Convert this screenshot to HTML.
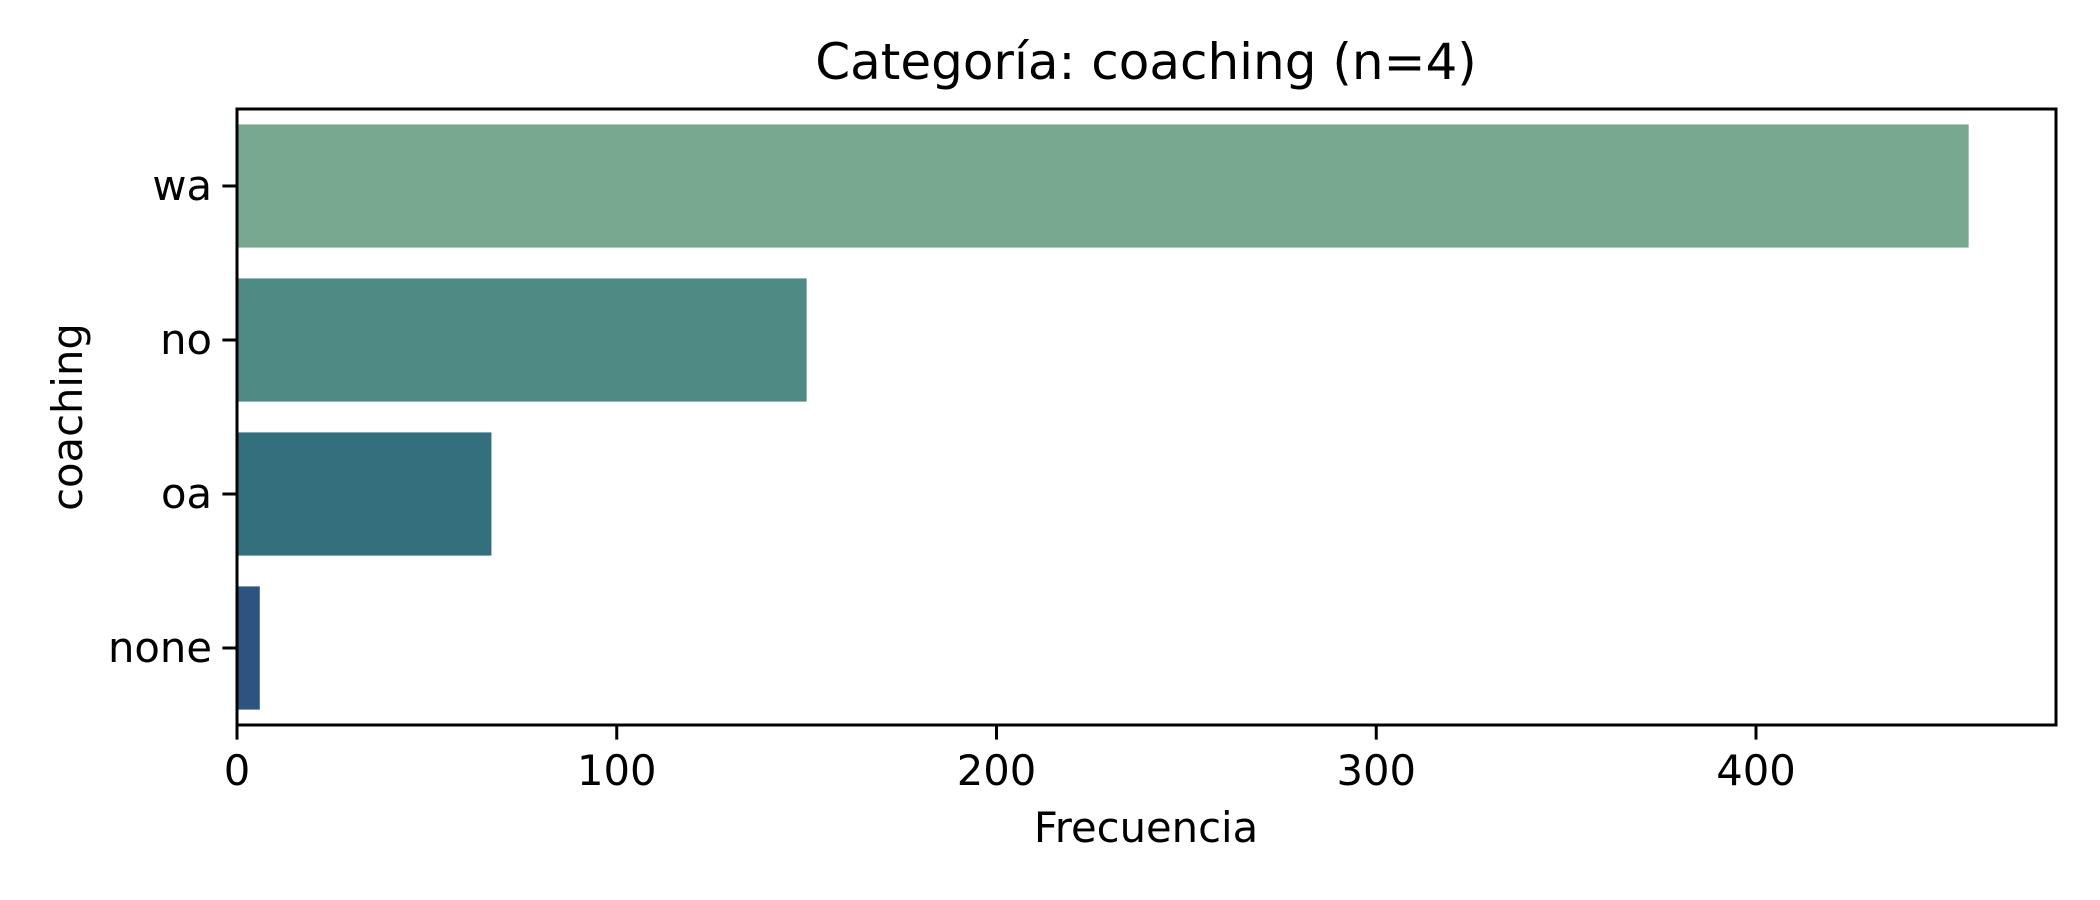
<!DOCTYPE html>
<html><head><meta charset="utf-8"><style>
html,body{margin:0;padding:0;background:#fff;}
svg{display:block;font-family:"DejaVu Sans","Liberation Sans",sans-serif;}
</style></head><body>
<svg id="chart" width="2100" height="900" viewBox="0 0 2100 900">
<text x="1146" y="79" font-size="50" text-anchor="middle">Categoría: coaching (n=4)</text>
<g id="bars"></g>
<g id="xticks"></g>
<g id="yticks"></g>
<rect x="237" y="109" width="1819" height="616" fill="none" stroke="#000" stroke-width="3"/>
<text x="1146" y="842" font-size="41.7" text-anchor="middle">Frecuencia</text>
<text transform="translate(82,417) rotate(-90)" font-size="41.7" text-anchor="middle">coaching</text>
</svg>
<script>
const categories = ["wa","no","oa","none"];
const values = [456,150,67,6];
const colors = ["#78a98f","#4f8b84","#336f7c","#2f5380"];
const xTicks = [0,100,200,300,400];
const xMax = 479;
const L=237,R=2056,T=109,B=725;
const NS="http://www.w3.org/2000/svg";
const xs=v=>L+(v/xMax)*(R-L);
const band=(B-T)/categories.length;
const yc=i=>T+band*(i+0.5);
function mk(tag,attrs,parent,txt){const e=document.createElementNS(NS,tag);for(const k in attrs)e.setAttribute(k,attrs[k]);if(txt!==undefined)e.textContent=txt;parent.appendChild(e);return e;}
const gb=document.getElementById('bars'),gx=document.getElementById('xticks'),gy=document.getElementById('yticks');
categories.forEach((c,i)=>{
  const h=band*0.8;
  const r=mk('rect',{x:xs(0),y:yc(i)-h/2,width:xs(values[i])-xs(0),height:h,fill:colors[i]},gb);
  
  
  const t=mk('line',{x1:L-14.6,x2:L,y1:yc(i),y2:yc(i),stroke:'#000','stroke-width':3},gy);
  
  
  const lb=mk('text',{x:L-25,y:yc(i)+14,'font-size':41.7,'text-anchor':'end'},gy,c);
  
  
});
xTicks.forEach(v=>{
  const t=mk('line',{x1:xs(v),x2:xs(v),y1:B,y2:B+14.6,stroke:'#000','stroke-width':3},gx);
  
  
  const lb=mk('text',{x:xs(v),y:B+60,'font-size':41.7,'text-anchor':'middle'},gx,String(v));
  
  
});
</script>
</body></html>
